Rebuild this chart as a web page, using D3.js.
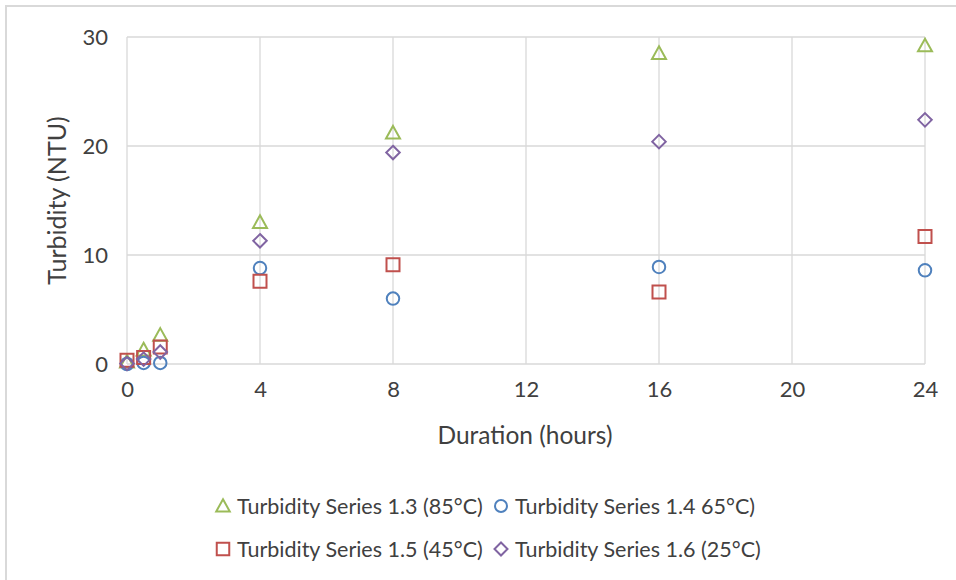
<!DOCTYPE html>
<html><head><meta charset="utf-8">
<script src="https://cdn.jsdelivr.net/npm/d3@7"></script>
<style>body{margin:0;background:#fff}svg{display:block}text{font-family:Lato,"Open Sans",sans-serif;fill:#404040}</style>
</head><body><svg id="c" width="956" height="580"></svg>
<script>
const hours = [0, 0.5, 1, 4, 8, 16, 24];
const s13 = [0.2, 1.3, 2.65, 13.0, 21.2, 28.5, 29.2];
const s14 = [0.0, 0.1, 0.1, 8.8, 6.0, 8.9, 8.6];
const s15 = [0.35, 0.6, 1.55, 7.6, 9.1, 6.6, 11.7];
const s16 = [0.05, 0.45, 1.1, 11.3, 19.4, 20.4, 22.4];
const seriesNames = ["Turbidity Series 1.3 (85°C)", "Turbidity Series 1.4 65°C)", "Turbidity Series 1.5 (45°C)", "Turbidity Series 1.6 (25°C)"];
const xTicks = [0, 4, 8, 12, 16, 20, 24];
const yTicks = [0, 10, 20, 30];

const series = [
  {name: seriesNames[0], values: s13, color: "#9BBB59", shape: "triangle"},
  {name: seriesNames[1], values: s14, color: "#4F81BD", shape: "circle"},
  {name: seriesNames[2], values: s15, color: "#C0504D", shape: "square"},
  {name: seriesNames[3], values: s16, color: "#8064A2", shape: "diamond"}
];

const svg = d3.select("#c");
// frame
svg.append("rect").attr("x", 6).attr("y", 6).attr("width", 970).attr("height", 600)
  .attr("fill", "none").attr("stroke", "#d9d9d9").attr("stroke-width", 2);

const x = d3.scaleLinear().domain([0, 24]).range([127, 925]);
const y = d3.scaleLinear().domain([0, 30]).range([364, 37]);

// gridlines
svg.append("g").selectAll("line").data(xTicks).join("line")
  .attr("x1", d => x(d)).attr("x2", d => x(d)).attr("y1", y(30)).attr("y2", y(0))
  .attr("stroke", "#d9d9d9").attr("stroke-width", 1.3);
svg.append("g").selectAll("line").data(yTicks).join("line")
  .attr("x1", x(0)).attr("x2", x(24)).attr("y1", d => y(d)).attr("y2", d => y(d))
  .attr("stroke", "#d9d9d9").attr("stroke-width", 1.3);

// axes labels
const xa = svg.append("g").attr("transform", `translate(0,${y(0)})`)
  .call(d3.axisBottom(x).tickValues(xTicks).tickSize(0).tickPadding(22).tickFormat(d3.format("d")));
xa.select(".domain").remove();
xa.selectAll("text").attr("font-size", 22).attr("dy", "0.5em").style("font-family", "Lato,sans-serif").attr("fill", "#404040");

const ya = svg.append("g").attr("transform", `translate(${x(0)},0)`)
  .call(d3.axisLeft(y).tickValues(yTicks).tickSize(0).tickPadding(19).tickFormat(d3.format("d")));
ya.select(".domain").remove();
ya.selectAll("text").attr("font-size", 22).attr("dy", "0.35em").style("font-family", "Lato,sans-serif").attr("fill", "#404040");

svg.append("text").attr("x", 525).attr("y", 444).attr("text-anchor", "middle")
  .attr("font-size", 24.5).text("Duration (hours)");
svg.append("text").attr("transform", `translate(66,${y(15)}) rotate(-90)`).attr("text-anchor", "middle")
  .attr("font-size", 25).text("Turbidity (NTU)");

function markerPath(shape, s) {
  const h = s / 2;
  if (shape === "triangle") return `M0,${-h}L${h},${h*0.8}L${-h},${h*0.8}Z`;
  if (shape === "square") return `M${-h},${-h}H${h}V${h}H${-h}Z`;
  if (shape === "diamond") return `M0,${-h}L${h},0L0,${h}L${-h},0Z`;
  return `M${h},0A${h},${h} 0 1,1 ${-h},0A${h},${h} 0 1,1 ${h},0Z`;
}
const sizes = {triangle: 14, square: 13, diamond: 13.5, circle: 12.5};

series.forEach(s => {
  svg.append("g").selectAll("path").data(hours.map((h, i) => [h, s.values[i]])).join("path")
    .attr("transform", d => `translate(${x(d[0])},${y(d[1])})`)
    .attr("d", markerPath(s.shape, sizes[s.shape]))
    .attr("fill", "none").attr("stroke", s.color).attr("stroke-width", 2);
});

// legend
const legPos = [[223, 506], [501, 506], [223, 549], [501, 549]];
series.forEach((s, i) => {
  const [lx, ly] = legPos[i];
  const g = svg.append("g").attr("transform", `translate(${lx},${ly})`);
  g.append("path").attr("d", markerPath(s.shape, sizes[s.shape] - 0.5))
    .attr("fill", "none").attr("stroke", s.color).attr("stroke-width", 2);
  g.append("text").attr("x", 14).attr("dy", "0.35em").attr("font-size", 21.5).text(s.name);
});
</script></body></html>
